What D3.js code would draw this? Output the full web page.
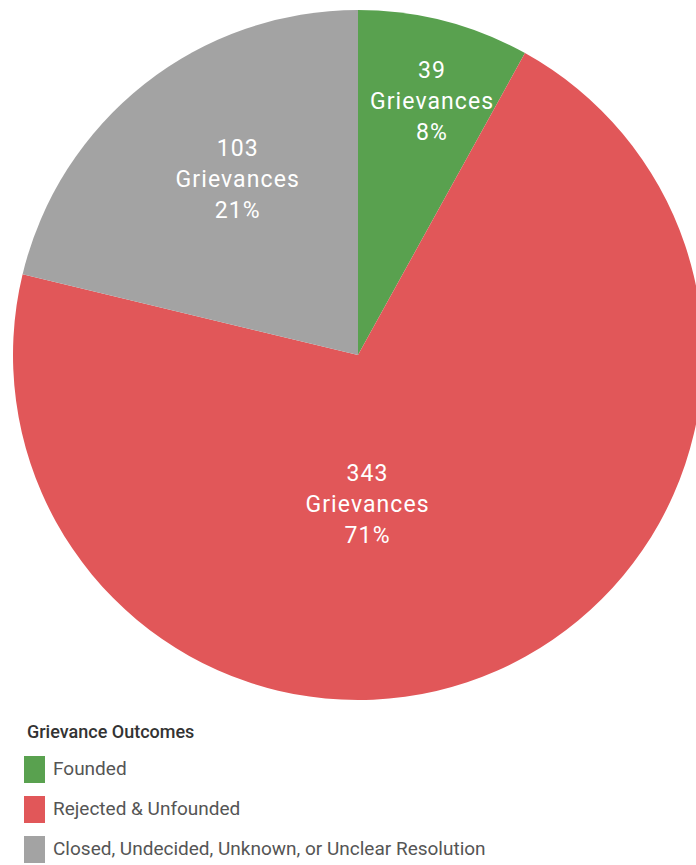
<!DOCTYPE html>
<html><head><meta charset="utf-8">
<script src="https://cdn.jsdelivr.net/npm/d3@7"></script>
<style>body{margin:0;background:#fff;} svg{display:block;}</style>
</head><body>
<svg id="c" width="696" height="865"></svg>
<script>
const categories = ["Founded", "Rejected & Unfounded", "Closed, Undecided, Unknown, or Unclear Resolution"];
const counts = [39, 343, 103];
const colors = ["#59a14f", "#e15759", "#a3a3a3"];
const legendTitle = "Grievance Outcomes";

const svg = d3.select("#c");
const font = "Roboto, sans-serif";
const cx = 358, cy = 355, R = 345;
const total = d3.sum(counts);
const data = categories.map((c, i) => ({cat: c, value: counts[i], color: colors[i]}));
const pie = d3.pie().sort(null).value(d => d.value);
const arcs = pie(data);
const arc = d3.arc().innerRadius(0).outerRadius(R);
const g = svg.append("g").attr("transform", `translate(${cx},${cy})`);
g.selectAll("path").data(arcs).join("path").attr("d", arc).attr("fill", d => d.data.color);

// label placement (fraction of radius, angle shift in radians)
const labelR = [0.77, 0.43, 0.62];
const labelShift = [0.03, 0.35, 0.07];
arcs.forEach((a, i) => {
  const ang = (a.startAngle + a.endAngle) / 2 + labelShift[i];
  const r = R * labelR[i];
  const x = Math.sin(ang) * r, y = -Math.cos(ang) * r;
  const t = g.append("text").attr("x", x).attr("y", y).attr("text-anchor", "middle")
    .attr("fill", "#fff").style("font-family", font).style("font-size", "23px")
    .style("letter-spacing", "1.1px")
    .attr("dominant-baseline", "middle");
  const lines = [String(a.data.value), "Grievances", Math.round(a.data.value / total * 100) + "%"];
  lines.forEach((l, k) => t.append("tspan").attr("x", x).attr("dy", k === 0 ? -28 : 31).text(l));
});

// legend
const lg = svg.append("g").attr("transform", "translate(24,0)");
lg.append("text").attr("x", 3).attr("y", 738).text(legendTitle)
  .attr("fill", "#333").style("font-family", font).style("font-size", "18px").style("font-weight", 500);
const items = lg.selectAll("g.item").data(data).join("g").attr("class", "item")
  .attr("transform", (d, i) => `translate(0,${756 + i * 40})`);
items.append("rect").attr("width", 21).attr("height", 27).attr("fill", d => d.color);
items.append("text").attr("x", 29).attr("y", 14).attr("dominant-baseline", "middle")
  .attr("fill", "#555").style("font-family", font).style("font-size", "19px").text(d => d.cat);
</script>
</body></html>
